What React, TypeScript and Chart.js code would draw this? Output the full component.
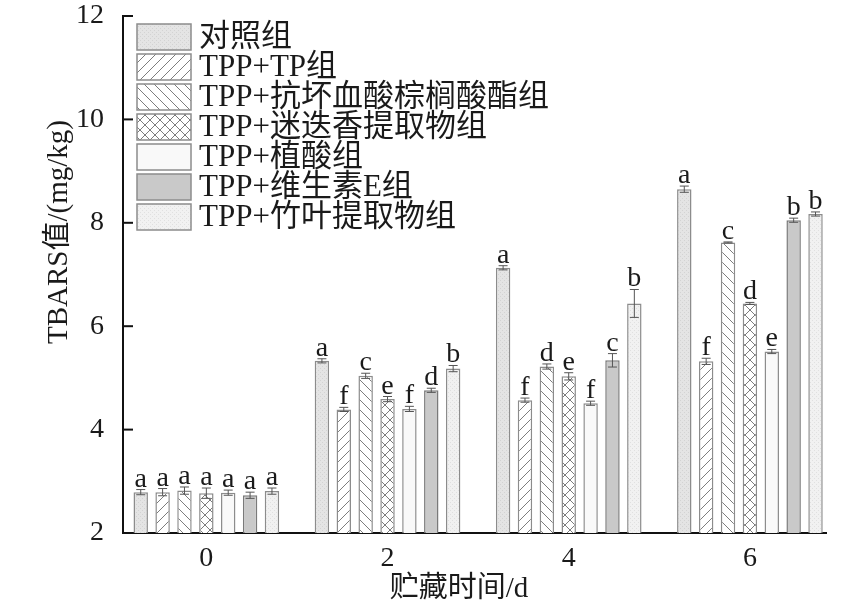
import { useEffect, useRef } from 'react';
import { Chart, registerables } from 'chart.js';

Chart.register(...registerables);

// storage days (x axis)
const days = ['0', '2', '4', '6'];

const groupNames = [
  '对照组',
  'TPP+TP组',
  'TPP+抗坏血酸棕榈酸酯组',
  'TPP+迷迭香提取物组',
  'TPP+植酸组',
  'TPP+维生素E组',
  'TPP+竹叶提取物组',
];

// TBARS values (mg/kg) per group, one entry per day
const controlVals = [2.79, 5.33, 7.13, 8.65];
const tpVals = [2.79, 4.39, 4.57, 5.32];
const palmitateVals = [2.82, 5.04, 5.22, 7.62];
const rosemaryVals = [2.77, 4.59, 5.03, 6.44];
const phyticVals = [2.78, 4.4, 4.51, 5.51];
const vitEVals = [2.73, 4.76, 5.34, 8.05];
const bambooVals = [2.81, 5.18, 6.44, 8.17];

// standard deviations
const controlErr = [0.05, 0.04, 0.04, 0.06];
const tpErr = [0.07, 0.04, 0.04, 0.06];
const palmitateErr = [0.07, 0.05, 0.05, 0.01];
const rosemaryErr = [0.1, 0.05, 0.07, 0.02];
const phyticErr = [0.05, 0.05, 0.04, 0.04];
const vitEErr = [0.06, 0.04, 0.13, 0.04];
const bambooErr = [0.06, 0.06, 0.27, 0.04];

// significance letters
const controlSig = ['a', 'a', 'a', 'a'];
const tpSig = ['a', 'f', 'f', 'f'];
const palmitateSig = ['a', 'c', 'd', 'c'];
const rosemarySig = ['a', 'e', 'e', 'd'];
const phyticSig = ['a', 'f', 'f', 'e'];
const vitESig = ['a', 'd', 'c', 'b'];
const bambooSig = ['a', 'b', 'b', 'b'];

const yTicks = [2, 4, 6, 8, 10, 12];

const allVals = [controlVals, tpVals, palmitateVals, rosemaryVals, phyticVals, vitEVals, bambooVals];
const allErr = [controlErr, tpErr, palmitateErr, rosemaryErr, phyticErr, vitEErr, bambooErr];
const allSig = [controlSig, tpSig, palmitateSig, rosemarySig, phyticSig, vitESig, bambooSig];

const FONT = "'Liberation Serif', 'Noto Sans CJK SC', serif";

function makeFill(kind: string, bg: string): CanvasPattern | string {
  const size = kind === 'dots' ? 4 : 10;
  const c = document.createElement('canvas');
  c.width = size;
  c.height = size;
  const g = c.getContext('2d');
  if (!g) return bg;
  g.fillStyle = bg;
  g.fillRect(0, 0, size, size);
  if (kind === 'dots') {
    g.fillStyle = 'rgba(0,0,0,0.07)';
    g.fillRect(0, 0, 1, 1);
    g.fillRect(2, 2, 1, 1);
  }
  g.strokeStyle = '#7d7d7d';
  g.lineWidth = 1;
  if (kind === 'fwd' || kind === 'cross') {
    g.beginPath();
    g.moveTo(-1, size + 1);
    g.lineTo(size + 1, -1);
    g.moveTo(-1, 1);
    g.lineTo(1, -1);
    g.moveTo(size - 1, size + 1);
    g.lineTo(size + 1, size - 1);
    g.stroke();
  }
  if (kind === 'back' || kind === 'cross') {
    g.beginPath();
    g.moveTo(-1, -1);
    g.lineTo(size + 1, size + 1);
    g.moveTo(size - 1, -1);
    g.lineTo(size + 1, 1);
    g.moveTo(-1, size - 1);
    g.lineTo(1, size + 1);
    g.stroke();
  }
  return g.createPattern(c, 'repeat') || bg;
}

const decorPlugin = {
  id: 'decor',
  afterDraw(chart: any) {
    const { ctx, chartArea } = chart;
    const y = chart.scales.y;
    ctx.save();

    // error bars + letters
    chart.data.datasets.forEach((ds: any, i: number) => {
      const meta = chart.getDatasetMeta(i);
      meta.data.forEach((bar: any, j: number) => {
        const v = allVals[i][j];
        const e = allErr[i][j];
        const yt = y.getPixelForValue(v + e);
        const yb = y.getPixelForValue(v - e);
        ctx.strokeStyle = '#555';
        ctx.lineWidth = 1;
        ctx.beginPath();
        ctx.moveTo(bar.x, yt);
        ctx.lineTo(bar.x, yb);
        ctx.moveTo(bar.x - 4.5, yt);
        ctx.lineTo(bar.x + 4.5, yt);
        ctx.moveTo(bar.x - 4.5, yb);
        ctx.lineTo(bar.x + 4.5, yb);
        ctx.stroke();
        ctx.fillStyle = '#1a1a1a';
        ctx.font = `28px ${FONT}`;
        ctx.textAlign = 'center';
        ctx.textBaseline = 'alphabetic';
        ctx.fillText(allSig[i][j], bar.x, yt - 3);
      });
    });

    // inward ticks on y axis
    ctx.strokeStyle = '#111';
    ctx.lineWidth = 2;
    yTicks.forEach((t) => {
      const py = y.getPixelForValue(t);
      ctx.beginPath();
      ctx.moveTo(chartArea.left, py);
      ctx.lineTo(chartArea.left + 10, py);
      ctx.stroke();
    });

    // legend
    const lx = chartArea.left + 14;
    const ly = chartArea.top + 8;
    chart.data.datasets.forEach((ds: any, i: number) => {
      const top = ly + i * 30;
      ctx.fillStyle = ds.backgroundColor;
      ctx.fillRect(lx, top, 54, 26);
      ctx.strokeStyle = '#8c8c8c';
      ctx.lineWidth = 1.5;
      ctx.strokeRect(lx, top, 54, 26);
      ctx.fillStyle = '#1a1a1a';
      ctx.font = `31px ${FONT}`;
      ctx.textAlign = 'left';
      ctx.textBaseline = 'middle';
      ctx.fillText(ds.label, lx + 62, top + 14);
    });

    // axis titles
    ctx.fillStyle = '#1a1a1a';
    ctx.font = `29px ${FONT}`;
    ctx.textAlign = 'center';
    ctx.textBaseline = 'middle';
    ctx.fillText('贮藏时间/d', 459, 589);
    ctx.save();
    ctx.translate(59, 232);
    ctx.rotate(-Math.PI / 2);
    ctx.fillText('TBARS值/(mg/kg)', 0, 0);
    ctx.restore();

    ctx.restore();
  },
};

export default function App() {
  const canvasRef = useRef<HTMLCanvasElement>(null);

  useEffect(() => {
    if (!canvasRef.current) return;
    const fills = [
      makeFill('dots', '#e4e4e4'),
      makeFill('fwd', '#ffffff'),
      makeFill('back', '#ffffff'),
      makeFill('cross', '#ffffff'),
      '#f9f9f9',
      '#c9c9c9',
      makeFill('dots', '#f1f1f1'),
    ];
    const borders = ['#8c8c8c', '#8c8c8c', '#8c8c8c', '#8c8c8c', '#8c8c8c', '#7a7a7a', '#8c8c8c'];

    const chart = new Chart(canvasRef.current, {
      type: 'bar',
      data: {
        labels: days,
        datasets: groupNames.map((name, i) => ({
          label: name,
          data: allVals[i],
          backgroundColor: fills[i] as any,
          borderColor: borders[i],
          borderWidth: 1.5,
          borderSkipped: 'start' as const,
          categoryPercentage: 0.845,
          barPercentage: 0.66,
        })),
      },
      options: {
        responsive: false,
        animation: false,
        devicePixelRatio: 1,
        layout: { padding: { top: 16, right: 20, left: 0, bottom: 0 } },
        plugins: {
          legend: { display: false },
          tooltip: { enabled: false },
        },
        scales: {
          x: {
            type: 'linear',
            min: -0.92,
            max: 6.84,
            offset: false,
            z: 1,
            afterBuildTicks: (s: any) => {
              s.ticks = days.map((d) => ({ value: Number(d) }));
            },
            afterFit: (s: any) => {
              s.height = 76;
              s.paddingLeft = 0;
              s.paddingRight = 0;
            },
            grid: { display: false, drawTicks: false },
            border: { display: true, color: '#111', width: 2 },
            ticks: {
              font: { family: FONT, size: 28 },
              color: '#1a1a1a',
              padding: 9,
              maxRotation: 0,
              autoSkip: false,
            },
          },
          y: {
            min: 2,
            max: 12,
            z: 1,
            afterBuildTicks: (s: any) => {
              s.ticks = yTicks.map((v) => ({ value: v }));
            },
            afterFit: (s: any) => {
              s.width = 123;
              s.paddingTop = 0;
              s.paddingBottom = 0;
            },
            grid: { display: false, drawTicks: false },
            border: { display: true, color: '#111', width: 2 },
            ticks: {
              font: { family: FONT, size: 28 },
              color: '#1a1a1a',
              padding: 19,
            },
          },
        },
      },
      plugins: [decorPlugin],
    });

    return () => {
      chart.destroy();
    };
  }, []);

  return (
    <div style={{ position: 'fixed', left: 0, top: 0, width: 846, height: 609, background: '#fff' }}>
      <canvas ref={canvasRef} width={846} height={609} style={{ display: 'block' }} />
    </div>
  );
}
